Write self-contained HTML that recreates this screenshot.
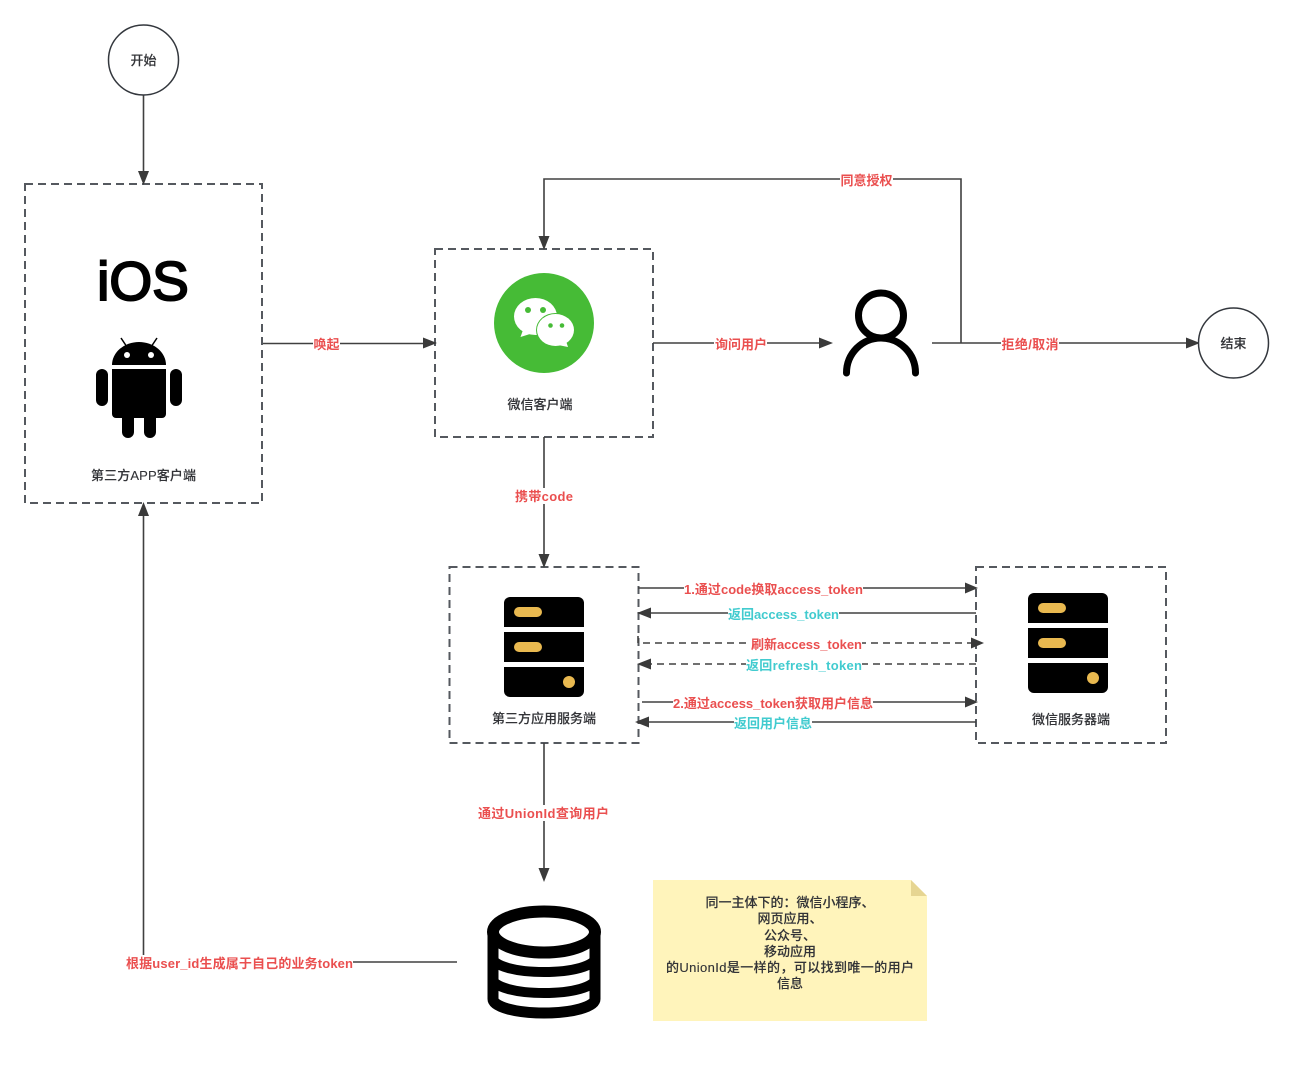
<!DOCTYPE html>
<html>
<head>
<meta charset="utf-8">
<style>
html,body{margin:0;padding:0;background:#fff;width:1293px;height:1069px;overflow:hidden}
svg{display:block}
text{font-family:"Liberation Sans","Noto Sans CJK SC",sans-serif;font-size:13px;text-anchor:middle;dominant-baseline:central;fill:#323337;font-weight:500;stroke:#323337;stroke-width:.12}
.r{fill:#ea4f4f;stroke:none;font-weight:700}
.t{fill:#41cbcf;stroke:none;font-weight:700}
.box{fill:none;stroke:#55595f;stroke-width:2;stroke-dasharray:8 5}
.ln{fill:none;stroke:#404040;stroke-width:1.6}
.dl{fill:none;stroke:#404040;stroke-width:1.6;stroke-dasharray:7 5}
.ah{fill:#3a3a3a}
.w{fill:#fff}
</style>
</head>
<body>
<svg width="1293" height="1069" viewBox="0 0 1293 1069" xmlns="http://www.w3.org/2000/svg">
<rect width="1293" height="1069" fill="#fff"/>

<!-- boxes -->
<rect class="box" x="25" y="184" width="237" height="319"/>
<rect class="box" x="435" y="249" width="218" height="188"/>
<rect class="box" x="449.500" y="567" width="189" height="176"/>
<rect class="box" x="976" y="567" width="190" height="176"/>

<!-- connectors -->
<path class="ln" d="M143.500 95V176"/>
<polygon class="ah" points="138,171 149,171 143.500,185"/>
<path class="ln" d="M263 343.500H424"/>
<polygon class="ah" points="423,337.500 423,348.500 437,343"/>
<path class="ln" d="M653 343H820"/>
<polygon class="ah" points="819,337.500 819,348.500 833,343"/>
<path class="ln" d="M932 343H1187"/>
<polygon class="ah" points="1186,337.500 1186,348.500 1200,343"/>
<path class="ln" d="M961 343V179H544V238"/>
<polygon class="ah" points="538.500,236 549.500,236 544,250"/>
<path class="ln" d="M544 437V556"/>
<polygon class="ah" points="538.500,554 549.500,554 544,568"/>
<path class="ln" d="M638 588H966"/>
<polygon class="ah" points="965,582.500 965,593.500 978,588"/>
<path class="ln" d="M976 613H650"/>
<polygon class="ah" points="651,607.500 651,618.500 637,613"/>
<path class="dl" d="M638 636V643H972"/>
<polygon class="ah" points="971,637.500 971,648.500 984,643"/>
<path class="dl" d="M976 664H650"/>
<polygon class="ah" points="651,658.500 651,669.500 637,664"/>
<path class="ln" d="M642 702H966"/>
<polygon class="ah" points="965,696.500 965,707.500 978,702"/>
<path class="ln" d="M976 722H648"/>
<polygon class="ah" points="649,716.500 649,727.500 635,722"/>
<path class="ln" d="M544 743V870"/>
<polygon class="ah" points="538.500,868 549.500,868 544,882"/>
<path class="ln" d="M457 962H143.500V515"/>
<polygon class="ah" points="138,516 149,516 143.500,502"/>

<!-- circles -->
<circle cx="143.500" cy="60" r="35" fill="#fff" stroke="#33373d" stroke-width="1.500"/>
<text x="143.500" y="60.500">开始</text>
<circle cx="1233.500" cy="343" r="35" fill="#fff" stroke="#33373d" stroke-width="1.500"/>
<text x="1233.500" y="343.500">结束</text>

<!-- iOS + Android -->
<text x="143" y="300" style="font-size:55px;font-family:'Liberation Sans',sans-serif;fill:#000;stroke:#000;stroke-width:2px;font-weight:400;dominant-baseline:auto">iOS</text>
<path d="M112 365A27 23 0 0 1 166 365Z" fill="#000"/>
<path d="M112 369H166V414a4 4 0 0 1-4 4H116a4 4 0 0 1-4-4Z" fill="#000"/>
<rect x="96" y="369" width="12" height="37" rx="6" fill="#000"/>
<rect x="170" y="369" width="12" height="37" rx="6" fill="#000"/>
<rect x="122" y="410" width="12" height="28" rx="6" fill="#000"/>
<rect x="144" y="410" width="12" height="28" rx="6" fill="#000"/>
<path d="M121 338L127 347M157 338L151 347" stroke="#000" stroke-width="1.500"/>
<circle cx="127" cy="355" r="3" fill="#fff"/>
<circle cx="151" cy="355" r="3" fill="#fff"/>
<text x="143.500" y="475.500" textLength="105">第三方APP客户端</text>

<!-- WeChat -->
<circle cx="544" cy="323" r="50" fill="#46bb36"/>
<ellipse cx="535.500" cy="316.500" rx="21.500" ry="18.500" fill="#fff"/>
<polygon points="523,330 530,334 520.500,337" fill="#fff"/>
<ellipse cx="555.500" cy="330" rx="19.500" ry="17" fill="#46bb36"/>
<ellipse cx="555.500" cy="330" rx="18.500" ry="16" fill="#fff"/>
<polygon points="558,345 566,341 568,347" fill="#fff"/>
<circle cx="528" cy="310" r="3" fill="#46bb36"/>
<circle cx="543" cy="310" r="3" fill="#46bb36"/>
<circle cx="550.500" cy="325.500" r="2.300" fill="#46bb36"/>
<circle cx="562" cy="325.500" r="2.300" fill="#46bb36"/>
<text x="540" y="404.500">微信客户端</text>

<!-- person -->
<circle cx="881" cy="315.500" r="22.500" fill="none" stroke="#000" stroke-width="7"/>
<path d="M846.500 373A34.500 35 0 0 1 915.500 373" fill="none" stroke="#000" stroke-width="7" stroke-linecap="round"/>

<!-- server 1 -->
<path d="M504 627V603a6 6 0 0 1 6-6h68a6 6 0 0 1 6 6V627Z" fill="#000"/>
<rect x="504" y="632" width="80" height="30" fill="#000"/>
<path d="M504 667H584V691a6 6 0 0 1-6 6H510a6 6 0 0 1-6-6Z" fill="#000"/>
<rect x="514" y="607" width="28" height="10" rx="5" fill="#e9b950"/>
<rect x="514" y="642" width="28" height="10" rx="5" fill="#e9b950"/>
<circle cx="569" cy="682" r="6" fill="#e9b950"/>
<text x="544" y="718.500">第三方应用服务端</text>

<!-- server 2 -->
<path d="M1028 623V599a6 6 0 0 1 6-6h68a6 6 0 0 1 6 6V623Z" fill="#000"/>
<rect x="1028" y="628" width="80" height="30" fill="#000"/>
<path d="M1028 663H1108V687a6 6 0 0 1-6 6H1034a6 6 0 0 1-6-6Z" fill="#000"/>
<rect x="1038" y="603" width="28" height="10" rx="5" fill="#e9b950"/>
<rect x="1038" y="638" width="28" height="10" rx="5" fill="#e9b950"/>
<circle cx="1093" cy="678" r="6" fill="#e9b950"/>
<text x="1071" y="719.500">微信服务器端</text>

<!-- database -->
<g fill="none" stroke="#000" stroke-width="10">
<ellipse cx="544" cy="932" rx="51" ry="20.500" stroke-width="12"/>
<path d="M493 932V999A51 14 0 0 0 595 999V932" stroke-width="11"/>
<path d="M493 958A51 14 0 0 0 595 958"/>
<path d="M493 979A51 14 0 0 0 595 979"/>
</g>

<!-- note -->
<polygon points="653,880 911,880 927,896 927,1021 653,1021" fill="#fff4bb"/>
<polygon points="911,880 927,896 911,896" fill="#e6d592"/>
<text x="790" y="902.500">同一主体下的：微信小程序、</text>
<text x="790" y="918.500">网页应用、</text>
<text x="790" y="935.500">公众号、</text>
<text x="790" y="951.500">移动应用</text>
<text x="790" y="967.500" textLength="248">的UnionId是一样的，可以找到唯一的用户</text>
<text x="790" y="983.500">信息</text>

<!-- edge labels -->
<rect class="w" x="313" y="336" width="27" height="16"/>
<text class="r" x="326.500" y="344.500" textLength="26">唤起</text>
<rect class="w" x="714" y="336" width="53" height="16"/>
<text class="r" x="741" y="344.500" textLength="52">询问用户</text>
<rect class="w" x="1001" y="336" width="58" height="16"/>
<text class="r" x="1030" y="344.500" textLength="57">拒绝/取消</text>
<rect class="w" x="840" y="172" width="53" height="16"/>
<text class="r" x="866.500" y="180.500" textLength="52">同意授权</text>
<rect class="w" x="515" y="488" width="58" height="16"/>
<text class="r" x="544" y="496.500" textLength="58">携带code</text>
<rect class="w" x="684" y="581" width="179" height="16"/>
<text class="r" x="773.500" y="589.500" textLength="179">1.通过code换取access_token</text>
<rect class="w" x="728" y="606" width="111" height="16"/>
<text class="t" x="783.500" y="614.500" textLength="111">返回access_token</text>
<rect class="w" x="751" y="636" width="111" height="16"/>
<text class="r" x="806.500" y="644.500" textLength="111">刷新access_token</text>
<rect class="w" x="746" y="657" width="116" height="16"/>
<text class="t" x="804" y="665.500" textLength="116">返回refresh_token</text>
<rect class="w" x="673" y="695" width="200" height="16"/>
<text class="r" x="773" y="703.500" textLength="200">2.通过access_token获取用户信息</text>
<rect class="w" x="734" y="715" width="78" height="16"/>
<text class="t" x="773" y="723.500" textLength="78">返回用户信息</text>
<rect class="w" x="478" y="805" width="131" height="16"/>
<text class="r" x="543.500" y="813.500" textLength="131">通过UnionId查询用户</text>
<rect class="w" x="126" y="955" width="227" height="16"/>
<text class="r" x="239.500" y="963.500" textLength="227">根据user_id生成属于自己的业务token</text>
</svg>
</body>
</html>
